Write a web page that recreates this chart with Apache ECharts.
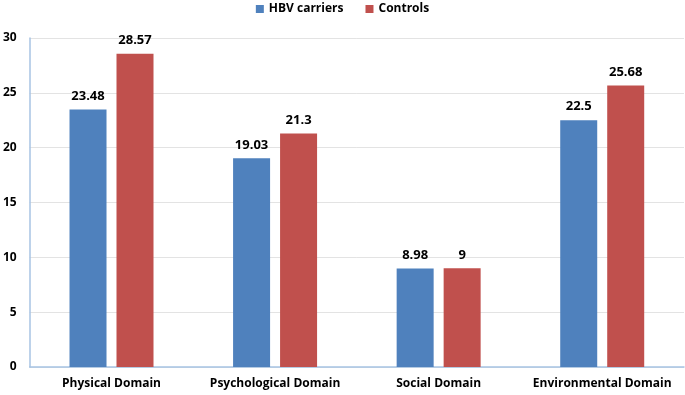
<!DOCTYPE html>
<html>
<head>
<meta charset="utf-8">
<script src="https://cdn.jsdelivr.net/npm/echarts@6/dist/echarts.min.js"></script>
<style>
  html, body { margin: 0; padding: 0; background: #fff; }
  #chart { width: 685px; height: 395px; }
</style>
</head>
<body>
<div id="chart"></div>
<script>
  var categories = ['Physical Domain', 'Psychological Domain', 'Social Domain', 'Environmental Domain'];
  var hbvCarriers = [23.48, 19.03, 8.98, 22.5];
  var controls = [28.57, 21.3, 9, 25.68];
  var seriesNames = ['HBV carriers', 'Controls'];

  var font = '"Open Sans", "Liberation Sans", sans-serif';
  var myChart = echarts.init(document.getElementById('chart'));

  var option = {
    animation: false,
    textStyle: { fontFamily: font },
    legend: {
      top: -2,
      left: 'center',
      itemWidth: 8,
      itemHeight: 8,
      itemGap: 22,
      icon: 'rect',
      textStyle: { fontFamily: font, fontSize: 12, fontWeight: 'bold', color: '#000' },
      data: seriesNames
    },
    grid: {
      left: 29,
      right: 1,
      top: 38,
      bottom: 28,
      containLabel: false
    },
    xAxis: {
      type: 'category',
      data: categories,
      axisLine: { lineStyle: { color: '#A7C3E3', width: 1.5 } },
      axisTick: { show: false },
      axisLabel: { interval: 0, fontFamily: font, fontSize: 12, fontWeight: 'bold', color: '#000', margin: 11 }
    },
    yAxis: {
      type: 'value',
      min: 0,
      max: 30,
      interval: 5,
      axisLine: { show: true, lineStyle: { color: '#A7C3E3', width: 1.5 } },
      axisTick: { show: false },
      splitLine: { lineStyle: { color: '#E3E3E3' } },
      axisLabel: { fontFamily: font, fontSize: 12, fontWeight: 'bold', color: '#000', margin: 13 }
    },
    series: [
      {
        name: seriesNames[0],
        type: 'bar',
        data: hbvCarriers,
        barWidth: 37,
        barGap: '27%',
        itemStyle: { color: '#4F81BD' },
        label: {
          show: true,
          position: 'top',
          distance: 7,
          fontFamily: font,
          fontSize: 13,
          fontWeight: 'bold',
          color: '#000'
        }
      },
      {
        name: seriesNames[1],
        type: 'bar',
        data: controls,
        barWidth: 37,
        itemStyle: { color: '#C0504D' },
        label: {
          show: true,
          position: 'top',
          distance: 7,
          fontFamily: font,
          fontSize: 13,
          fontWeight: 'bold',
          color: '#000'
        }
      }
    ]
  };
  myChart.setOption(option);
</script>
</body>
</html>
